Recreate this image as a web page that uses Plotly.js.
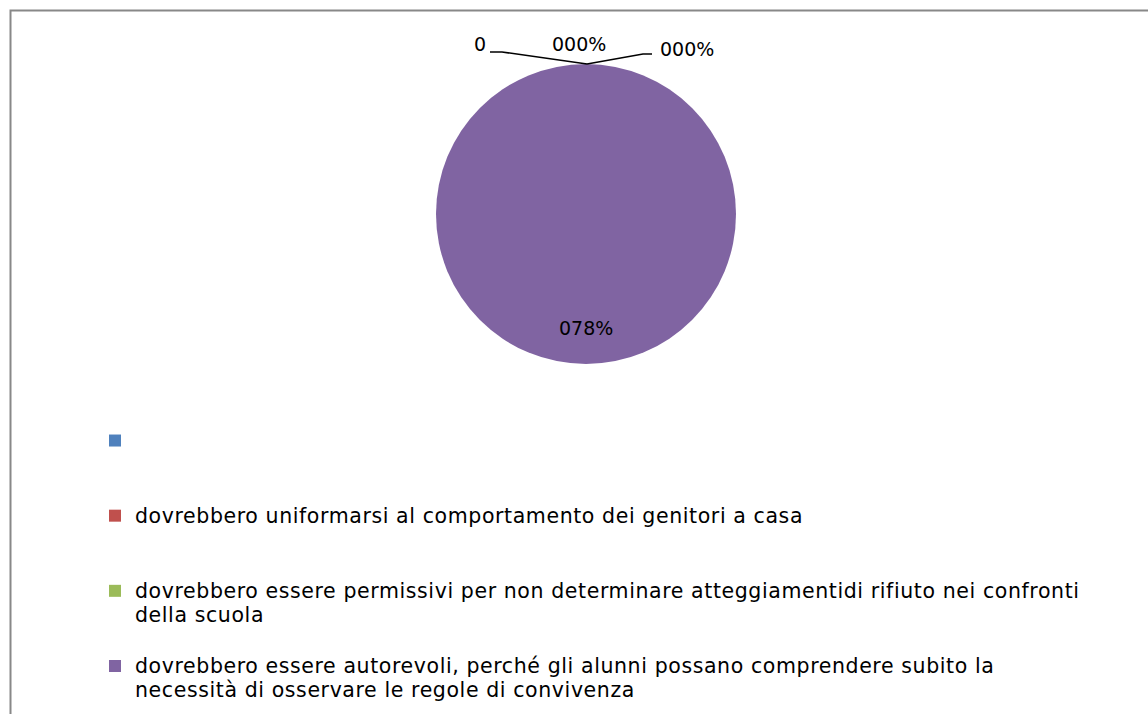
<!DOCTYPE html>
<html>
<head>
<meta charset="utf-8">
<script src="https://cdn.plot.ly/plotly-3.0.1.min.js"></script>
<style>html,body{margin:0;padding:0;background:#fff;}#chart{width:1148px;height:714px;}</style>
</head>
<body>
<div id="chart"></div>
<script>
// ---- data ----
const categories = [
  "",
  "dovrebbero uniformarsi al comportamento dei genitori a casa",
  "dovrebbero essere permissivi per non determinare atteggiamentidi rifiuto nei confronti|della scuola",
  "dovrebbero essere autorevoli, perché gli alunni possano comprendere subito la|necessità di osservare le regole di convivenza"
];
const values = [0, 0, 0, 78];
const sliceLabels = ["0", "000%", "000%", "078%"];
const colors = ["#4F81BD", "#C0504D", "#9BBB59", "#8064A2"];

// ---- helpers ----
const W = 1148, H = 714;
const px = x => x / W;
const py = y => 1 - y / H;
const FONT = "'DejaVu Sans', 'Open Sans', sans-serif";
const TXT = 20.5;

function legendLabel(s) {
  const lines = s === "" ? [" "] : s.split("|");
  while (lines.length < 3) lines.push(" ");
  return lines.map(l => '<span style="font-size:' + TXT + 'px;letter-spacing:0.6px">' + l + '</span>').join("<br>");
}

const trace = {
  type: "pie",
  labels: categories.map(legendLabel),
  values: values,
  sort: false,
  direction: "clockwise",
  textinfo: "none",
  hoverinfo: "skip",
  marker: { colors: colors, line: { width: 0 } },
  domain: { x: [px(436), px(736)], y: [py(364), py(64)] },
  showlegend: true
};

// slice label positions (label annotations)
const labelPos = [[480, 44], [579, 44], [687, 49], [586, 328]];
const annotations = sliceLabels.map((t, i) => ({
  text: t, xref: "paper", yref: "paper",
  x: px(labelPos[i][0]), y: py(labelPos[i][1]),
  xanchor: "center", yanchor: "middle", showarrow: false,
  font: { family: FONT, size: 19, color: "#000" }
}));

const leader = (pts) => "M" + pts.map(p => px(p[0]) + "," + py(p[1])).join("L");

const layout = {
  width: W, height: H,
  margin: { l: 0, r: 0, t: 0, b: 0, autoexpand: false },
  paper_bgcolor: "#fff",
  font: { family: FONT, color: "#000" },
  showlegend: true,
  legend: {
    x: px(95), y: py(422), xanchor: "left", yanchor: "top",
    orientation: "v", valign: "top",
    font: { family: FONT, size: 18.5, color: "#000" },
    bgcolor: "rgba(0,0,0,0)"
  },
  annotations: annotations,
  shapes: [
    { type: "path", xref: "paper", yref: "paper",
      path: leader([[490, 52], [502, 52], [587, 64]]), line: { color: "#000", width: 1.5 } },
    { type: "path", xref: "paper", yref: "paper",
      path: leader([[587, 64], [643, 54], [652, 54]]), line: { color: "#000", width: 1.5 } },
    { type: "rect", xref: "paper", yref: "paper",
      x0: px(10.5), x1: 1.2, y0: -0.2, y1: py(10.5),
      line: { color: "#888", width: 2 } }
  ]
};

Plotly.newPlot("chart", [trace], layout, { displayModeBar: false, staticPlot: true });
</script>
</body>
</html>
